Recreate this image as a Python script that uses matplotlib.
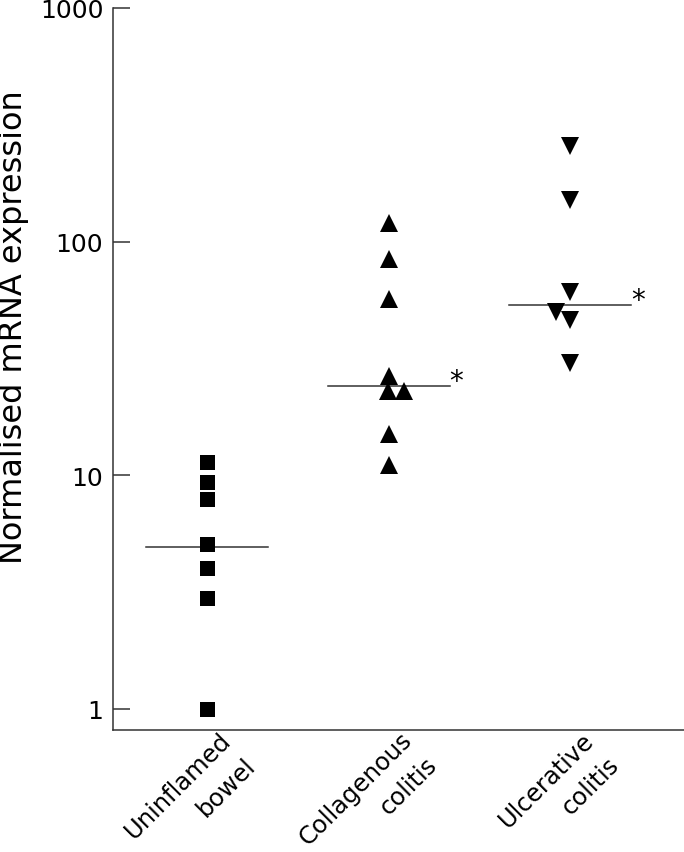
import matplotlib
matplotlib.use("Agg")
import matplotlib.pyplot as plt
import matplotlib.transforms as mtransforms
import numpy as np

categories = ["Uninflamed\nbowel", "Collagenous\ncolitis", "Ulcerative\ncolitis"]
uninflamed = [11.4, 9.4, 7.9, 5.07, 4.0, 3.0, 1.0]
collagenous = [120.5, 84.0, 57.0, 26.5, 23.0, 23.0, 15.1, 11.1]
ulcerative = [256.0, 151.0, 61.0, 49.8, 46.1, 30.3]
medians = [4.93, 24.0, 53.7]
significant = [False, True, True]
yticks = [1, 10, 100, 1000]
ytick_labels = ["1", "10", "100", "1000"]

# horizontal jitter used in the original to separate overlapping points
x_jitter = [
    [0, 0, 0, 0, 0, 0, 0],
    [0, 0, 0, 0, -0.005, 0.088, 0, 0],
    [0, 0, 0, -0.077, 0, 0],
]

plt.rcParams['font.family'] = ['DejaVu Sans']
fig = plt.figure(figsize=(6.84, 8.53), dpi=100)
ax = fig.add_axes([113/684, 1-730.7/853, 1-113/684, (730.7-9)/853])

groups = [uninflamed, collagenous, ulcerative]
markers = ['s', '^', 'v']
msizes = [10.8, 13.5, 13.5]
for i, (vals, m, ms) in enumerate(zip(groups, markers, msizes)):
    xs = [i + 1 + j for j in x_jitter[i]]
    ax.plot(xs, vals, linestyle='none', marker=m, markersize=ms,
            color='black', markeredgewidth=0, zorder=3)
    ax.plot([i + 1 - 0.336, i + 1 + 0.336], [medians[i], medians[i]],
            color='#333333', linewidth=1.1, zorder=2)
    if significant[i]:
        ax.annotate("*", xy=(i + 1 + 0.336, medians[i]), xytext=(0, 5),
                    textcoords='offset pixels', fontsize=20,
                    ha='left', va='center', color='black')

ax.set_yscale('log')
ax.set_ylim(10**-0.0886, 1000)
ax.set_xlim(0.482, 3.628)
ax.set_yticks(yticks)
ax.set_yticklabels(ytick_labels, fontsize=18)
ax.yaxis.set_minor_locator(matplotlib.ticker.NullLocator())
ax.tick_params(axis='y', direction='in', length=12, width=1.1,
               color='#333333', pad=7)
ax.set_xticks([1, 2, 3])
ax.set_xticklabels([])
ax.tick_params(axis='x', length=0)

# category labels, rotated 45 deg, each line right aligned on its own
line_offsets = [(25/100, -11/100), (50/100, -36/100)]
base = mtransforms.blended_transform_factory(ax.transData, ax.transAxes)
for i, cat in enumerate(categories):
    for line, (dx, dy) in zip(cat.split("\n"), line_offsets):
        tr = base + mtransforms.ScaledTranslation(dx, dy, fig.dpi_scale_trans)
        ax.text(i + 1, 0, line, transform=tr, fontsize=17.5, rotation=45,
                ha='right', va='baseline', rotation_mode='anchor',
                clip_on=False)

for s in ['top', 'right']:
    ax.spines[s].set_visible(False)
for s in ['left', 'bottom']:
    ax.spines[s].set_color('#333333')
    ax.spines[s].set_linewidth(1.1)

fig.text(14/684, 1-327/853, "Normalised mRNA expression", rotation=90,
         fontsize=23, ha='center', va='center')

fig.savefig("out.png", dpi=100)
